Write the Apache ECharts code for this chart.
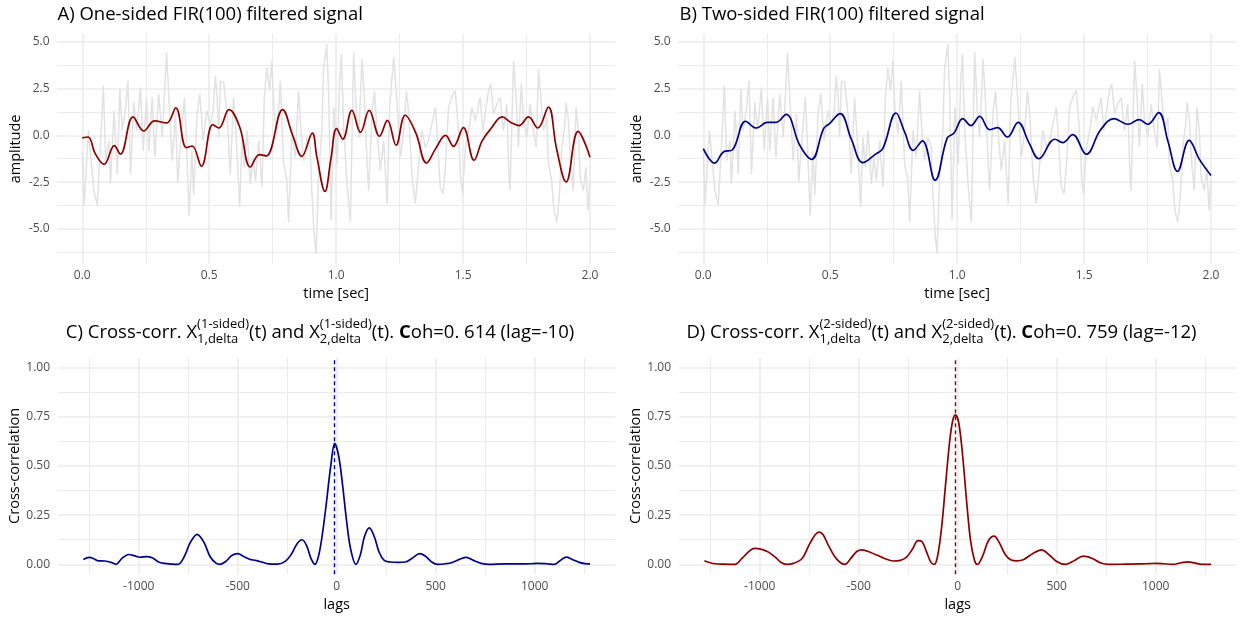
<!DOCTYPE html>
<html>
<head>
<meta charset="utf-8">
<script src="https://cdn.jsdelivr.net/npm/echarts@6/dist/echarts.min.js"></script>
<style>
  html, body { margin: 0; padding: 0; background: #ffffff; }
  #chart { width: 1240px; height: 617px; }
</style>
</head>
<body>
<div id="chart"></div>
<script>
// Raw (unfiltered) signal: [time in sec, amplitude]
const rawSignal = [
  [0,-0.91],[0.007,-3.75],[0.024,0.25],[0.046,-2.95],[0.059,-3.75],[0.069,-1.17],[0.083,2.65],[0.092,-1.35],[0.105,-0.28],[0.111,-2.59],
  [0.125,1.31],[0.138,-2.06],[0.148,2.47],[0.157,0.25],[0.170,1.40],[0.180,2.91],[0.190,-2.06],[0.203,1.76],[0.214,0.25],[0.229,2.56],
  [0.240,-0.82],[0.253,2.02],[0.262,-0.82],[0.275,2.02],[0.286,-1.17],[0.301,2.20],[0.315,-0.11],[0.332,4.42],[0.341,2.02],[0.354,-1.35],
  [0.367,1.14],[0.376,-2.50],[0.387,-0.46],[0.402,2.02],[0.410,-0.28],[0.421,-4.28],[0.432,-0.82],[0.439,-3.21],[0.452,1.14],[0.463,2.20],
  [0.476,-0.28],[0.491,1.31],[0.505,0.60],[0.515,1.31],[0.524,3.18],[0.531,2.02],[0.537,-0.11],[0.544,2.91],[0.557,2.82],[0.570,1.14],
  [0.583,-2.06],[0.596,2.02],[0.607,-0.28],[0.620,-3.84],[0.629,-0.11],[0.638,-1.71],[0.649,0.25],[0.662,-2.59],[0.672,-1.17],[0.682,-2.42],
  [0.695,-0.28],[0.708,-2.77],[0.717,2.02],[0.727,3.62],[0.738,2.38],[0.747,3.98],[0.756,1.14],[0.767,0.07],[0.780,2.91],[0.793,-1.53],
  [0.806,-2.42],[0.813,-4.64],[0.826,0.25],[0.839,-1.17],[0.852,2.38],[0.861,0.25],[0.872,-1.35],[0.885,-0.11],[0.898,-0.64],[0.904,-2.95],
  [0.913,-5.26],[0.921,-6.32],[0.931,-2.06],[0.944,0.25],[0.950,3.45],[0.963,4.87],[0.971,2.02],[0.980,-4.55],[0.991,1.49],[1.004,-1.53],
  [1.014,2.91],[1.021,4.33],[1.030,0.25],[1.043,-2.59],[1.056,-4.64],[1.063,0.25],[1.069,4.44],[1.080,1.14],[1.089,-0.11],[1.102,4.07],
  [1.111,2.02],[1.122,-1.53],[1.128,-2.95],[1.142,1.31],[1.151,2.38],[1.161,0.25],[1.174,-1.88],[1.187,-0.28],[1.201,-3.66],[1.211,1.67],
  [1.227,4.16],[1.240,1.67],[1.253,-1.17],[1.266,0.25],[1.277,2.38],[1.286,1.14],[1.299,-2.24],[1.312,-3.66],[1.325,-1.53],[1.338,0.25],
  [1.351,-0.64],[1.364,-0.28],[1.377,0.60],[1.391,1.49],[1.397,0.25],[1.410,-2.77],[1.421,-3.13],[1.430,-1.71],[1.443,1.49],[1.460,2.20],
  [1.469,2.38],[1.482,0.25],[1.491,-2.42],[1.498,-3.13],[1.509,-0.64],[1.522,0.25],[1.535,1.49],[1.548,0.78],[1.567,2.02],[1.578,0.25],
  [1.587,1.14],[1.600,2.38],[1.609,2.74],[1.620,1.14],[1.633,1.67],[1.646,2.02],[1.659,0.25],[1.672,1.67],[1.680,-1.88],[1.685,-2.95],
  [1.699,3.98],[1.709,2.02],[1.718,-0.64],[1.729,2.74],[1.738,0.78],[1.751,-0.11],[1.764,1.67],[1.777,0.25],[1.788,-0.64],[1.797,3.53],
  [1.806,2.02],[1.817,0.25],[1.830,0.96],[1.836,-1.53],[1.849,-2.42],[1.858,-4.01],[1.869,-4.64],[1.879,-3.30],[1.889,-0.64],[1.899,0.43],
  [1.906,1.76],[1.915,0.78],[1.924,-1.53],[1.934,-2.95],[1.945,1.49],[1.954,0.25],[1.961,-2.24],[1.974,-2.95],[1.984,-1.71],[1.992,-4.01],
  [2.0,-2.42]
];

// One-sided FIR(100) output: [time, amplitude]
const firOneSided = [
  [0,-0.14],[0.023,-0.09],[0.051,-0.98],[0.086,-1.55],[0.126,-0.55],[0.150,-1.01],[0.200,0.98],[0.242,0.23],[0.285,0.77],[0.332,0.66],
  [0.368,1.46],[0.410,-0.66],[0.433,-0.57],[0.469,-1.65],[0.514,0.57],[0.538,0.39],[0.578,1.37],[0.620,0.44],[0.662,-1.69],[0.698,-1.03],
  [0.725,-1.10],[0.789,1.37],[0.830,-0.05],[0.865,-1.12],[0.906,0.12],[0.924,-1.15],[0.956,-2.99],[0.979,-1.30],[1.002,0.36],[1.026,-0.20],
  [1.062,1.33],[1.096,0.16],[1.130,1.33],[1.171,-0.05],[1.202,0.80],[1.236,-0.53],[1.272,1.07],[1.314,0.12],[1.356,-1.48],[1.392,-0.71],
  [1.431,0.00],[1.462,-0.59],[1.501,0.41],[1.543,-1.33],[1.575,-0.30],[1.610,0.36],[1.654,0.98],[1.688,0.69],[1.720,0.52],[1.758,0.98],
  [1.794,0.39],[1.836,1.51],[1.868,-0.70],[1.906,-2.49],[1.953,0.21],[2.0,-1.17]
];

// Two-sided FIR(100) output: [time, amplitude]
const firTwoSided = [
  [0,-0.71],[0.045,-1.48],[0.079,-0.89],[0.115,-0.77],[0.167,0.75],[0.209,0.39],[0.251,0.69],[0.287,0.69],[0.326,1.12],[0.380,-0.53],
  [0.427,-1.28],[0.474,0.36],[0.497,0.62],[0.539,1.16],[0.583,-0.20],[0.629,-1.46],[0.676,-1.03],[0.707,-0.71],[0.759,1.19],[0.793,0.18],
  [0.827,-0.80],[0.863,-0.30],[0.913,-2.40],[0.961,-0.14],[0.988,0.12],[1.022,0.89],[1.054,0.52],[1.089,1.01],[1.128,0.30],[1.159,0.41],
  [1.198,-0.09],[1.240,0.69],[1.283,-0.40],[1.322,-1.25],[1.385,-0.21],[1.416,-0.39],[1.455,0.04],[1.509,-1.01],[1.564,0.27],[1.618,0.89],
  [1.673,0.59],[1.717,0.84],[1.751,0.59],[1.794,1.21],[1.830,-0.30],[1.868,-1.92],[1.914,-0.27],[1.955,-1.30],[2.0,-2.14]
];

// Cross-correlation of the one-sided outputs: [lag, value]
const ccfOneSided = [
  [-1280,0.025],[-1250,0.035],[-1230,0.030],[-1206,0.018],[-1170,0.017],[-1140,0.010],[-1115,0.000],[-1085,0.030],[-1050,0.050],[-1020,0.043],
  [-994,0.036],[-960,0.039],[-930,0.032],[-900,0.012],[-873,0.005],[-830,0.001],[-802,0.000],[-770,0.040],[-740,0.110],[-705,0.152],
  [-670,0.110],[-640,0.040],[-610,0.006],[-591,0.000],[-560,0.015],[-530,0.045],[-500,0.054],[-470,0.040],[-440,0.026],[-410,0.020],
  [-379,0.012],[-345,0.002],[-300,0.001],[-260,0.015],[-230,0.050],[-200,0.105],[-175,0.125],[-150,0.090],[-130,0.030],[-110,0.000],
  [-90,0.050],[-70,0.170],[-50,0.330],[-30,0.500],[-10,0.614],[10,0.550],[30,0.400],[50,0.220],[70,0.080],[97,0.000],
  [120,0.050],[140,0.140],[165,0.185],[190,0.140],[215,0.060],[240,0.020],[270,0.012],[310,0.010],[347,0.012],[380,0.030],
  [420,0.054],[450,0.040],[480,0.012],[510,0.000],[550,0.003],[580,0.008],[620,0.025],[655,0.035],[690,0.020],[730,0.005],
  [770,0.000],[850,0.002],[920,0.002],[980,0.003],[1012,0.005],[1060,0.003],[1100,0.000],[1130,0.020],[1160,0.037],[1190,0.025],
  [1225,0.010],[1254,0.004],[1280,0.002]
];

// Cross-correlation of the two-sided outputs: [lag, value]
const ccfTwoSided = [
  [-1280,0.018],[-1250,0.008],[-1226,0.003],[-1180,0.001],[-1126,0.000],[-1090,0.030],[-1050,0.070],[-1026,0.081],[-990,0.076],[-956,0.062],
  [-920,0.035],[-890,0.008],[-866,0.000],[-830,0.005],[-786,0.030],[-750,0.100],[-720,0.150],[-700,0.164],[-680,0.150],[-650,0.090],
  [-610,0.025],[-570,0.000],[-540,0.030],[-510,0.065],[-482,0.073],[-440,0.060],[-406,0.046],[-370,0.030],[-326,0.017],[-290,0.020],
  [-260,0.035],[-230,0.075],[-200,0.120],[-180,0.115],[-160,0.070],[-135,0.010],[-118,0.000],[-100,0.050],[-80,0.200],[-60,0.420],
  [-40,0.630],[-25,0.730],[-12,0.759],[5,0.720],[25,0.550],[45,0.320],[65,0.120],[85,0.020],[100,0.000],[125,0.040],
  [155,0.120],[184,0.143],[210,0.110],[240,0.050],[270,0.022],[300,0.018],[334,0.025],[380,0.055],[424,0.073],[460,0.050],
  [500,0.015],[544,0.000],[590,0.020],[634,0.042],[680,0.030],[720,0.008],[764,0.000],[850,0.001],[920,0.002],[970,0.004],
  [1004,0.005],[1040,0.003],[1084,0.000],[1130,0.008],[1164,0.013],[1200,0.006],[1234,0.000],[1280,0.000]
];

// Peak coherence and its lag for each cross-correlation
const peakOneSided = { lag: -10, coh: 0.614 };
const peakTwoSided = { lag: -12, coh: 0.759 };

// Axis breaks
const timeBreaks = [0, 0.5, 1, 1.5, 2];
const timeMinor = [0.25, 0.75, 1.25, 1.75];
const ampBreaks = [-5, -2.5, 0, 2.5, 5];
const ampMinor = [-6.25, -3.75, -1.25, 1.25, 3.75];
const lagBreaks = [-1000, -500, 0, 500, 1000];
const lagMinor = [-1250, -750, -250, 250, 750, 1250];
const ccBreaks = [0, 0.25, 0.5, 0.75, 1];
const ccMinor = [0.125, 0.375, 0.625, 0.875];

const FONT = "'Open Sans', 'Noto Sans', sans-serif";
const TICK_COL = '#4D4D4D';
const GRID_COL = '#EBEBEB';
const RED = '#8B0000';
const BLUE = '#00008B';

// ggplot-style 5% expansion of a data range
function expand(lo, hi) { const d = (hi - lo) * 0.05; return [lo - d, hi + d]; }
function extent(arr, k) {
  let lo = Infinity, hi = -Infinity;
  arr.forEach(p => { lo = Math.min(lo, p[k]); hi = Math.max(hi, p[k]); });
  return [lo, hi];
}

const timeRange = expand(0, 2);
const ampExt = extent(rawSignal, 1);
const ampRange = expand(ampExt[0], ampExt[1]);
const lagExt = extent(ccfOneSided, 0);
const lagRange = expand(lagExt[0], lagExt[1]);
const ccRange = expand(0, 1);

const grids = [
  { left: 56.9, top: 33.6, width: 558.5, height: 230.6 },
  { left: 677.9, top: 33.6, width: 558.5, height: 230.6 },
  { left: 58.0, top: 357.5, width: 557.4, height: 216.7 },
  { left: 679.0, top: 357.5, width: 557.4, height: 216.7 }
];

const TICK_SIZE = 12;
const AXIS_TITLE_SIZE = 14.5;

function xAxisDef(i, range, breaks, digits, name, labelMargin, nameGap) {
  return {
    gridIndex: i, type: 'value', min: range[0], max: range[1],
    axisLine: { show: false }, axisTick: { show: false }, splitLine: { show: false },
    axisLabel: {
      customValues: breaks, margin: labelMargin, color: TICK_COL,
      fontFamily: FONT, fontSize: TICK_SIZE,
      formatter: v => Number(v).toFixed(digits)
    },
    name: name, nameLocation: 'middle', nameGap: nameGap,
    nameTextStyle: { color: '#000', fontFamily: FONT, fontSize: AXIS_TITLE_SIZE }
  };
}
function yAxisDef(i, range, breaks, digits, name, labelMargin, nameGap) {
  return {
    gridIndex: i, type: 'value', min: range[0], max: range[1],
    axisLine: { show: false }, axisTick: { show: false }, splitLine: { show: false },
    axisLabel: {
      customValues: breaks, margin: labelMargin, color: TICK_COL,
      fontFamily: FONT, fontSize: TICK_SIZE,
      formatter: v => Number(v).toFixed(digits)
    },
    name: name, nameLocation: 'middle', nameGap: nameGap, nameRotate: 90,
    nameTextStyle: { color: '#000', fontFamily: FONT, fontSize: AXIS_TITLE_SIZE }
  };
}

// Panel grid lines (major and minor) drawn on the panel's own scales
function gridLines(i, xr, yr, xMaj, xMin, yMaj, yMin) {
  const data = [];
  xMin.forEach(v => data.push({ coords: [[v, yr[0]], [v, yr[1]]], lineStyle: { width: 1 } }));
  yMin.forEach(v => data.push({ coords: [[xr[0], v], [xr[1], v]], lineStyle: { width: 1 } }));
  xMaj.forEach(v => data.push({ coords: [[v, yr[0]], [v, yr[1]]], lineStyle: { width: 1.6 } }));
  yMaj.forEach(v => data.push({ coords: [[xr[0], v], [xr[1], v]], lineStyle: { width: 1.6 } }));
  return {
    type: 'lines', coordinateSystem: 'cartesian2d', xAxisIndex: i, yAxisIndex: i,
    silent: true, animation: false, z: 1,
    lineStyle: { color: GRID_COL, opacity: 1 },
    data: data
  };
}
function curve(i, data, color, width, smooth, z) {
  return {
    type: 'line', xAxisIndex: i, yAxisIndex: i, data: data,
    showSymbol: false, symbol: 'none', smooth: smooth, animation: false, silent: true, z: z,
    lineStyle: { color: color, width: width }
  };
}
function peakLine(i, lag, color) {
  return {
    type: 'lines', coordinateSystem: 'cartesian2d', xAxisIndex: i, yAxisIndex: i,
    silent: true, animation: false, z: 4,
    lineStyle: { color: color, width: 1.4, type: [4, 3], opacity: 1 },
    data: [{ coords: [[lag, ccRange[0]], [lag, ccRange[1]]] }]
  };
}

// Titles with stacked super/subscripts, laid out piece by piece
const measureCtx = document.createElement('canvas').getContext('2d');
function textWidth(text, size, weight) {
  measureCtx.font = (weight || 'normal') + ' ' + size + 'px ' + FONT;
  return measureCtx.measureText(text).width;
}
function textEl(x, y, text, size, weight, color) {
  return {
    type: 'text', x: x, y: y, silent: true,
    style: {
      text: text, fontSize: size, fontFamily: FONT, fontWeight: weight || 'normal',
      fill: color || '#000',
      align: 'left', verticalAlign: 'middle', textAlign: 'left', textVerticalAlign: 'middle'
    }
  };
}
const MAIN_SIZE = 18.5;
const SCRIPT_SIZE = 13;
function scriptTitle(centerX, midY, pieces) {
  const widths = pieces.map(p => p.sup !== undefined
    ? Math.max(textWidth(p.sup, SCRIPT_SIZE), textWidth(p.sub, SCRIPT_SIZE))
    : textWidth(p.text, MAIN_SIZE, p.bold ? 'bold' : 'normal'));
  const total = widths.reduce((a, b) => a + b, 0);
  let x = centerX - total / 2;
  const els = [];
  pieces.forEach((p, k) => {
    if (p.sup !== undefined) {
      els.push(textEl(x, midY - 8.6, p.sup, SCRIPT_SIZE));
      els.push(textEl(x, midY + 6.6, p.sub, SCRIPT_SIZE));
    } else {
      els.push(textEl(x, midY, p.text, MAIN_SIZE, p.bold ? 'bold' : 'normal'));
    }
    x += widths[k];
  });
  return els;
}
function cohTitle(letter, sided, peak) {
  const cohText = peak.coh.toFixed(3).replace('.', '. ');
  return [
    { text: letter + ') Cross-corr. X' },
    { sup: '(' + sided + ')', sub: '1,delta' },
    { text: '(t) and X' },
    { sup: '(' + sided + ')', sub: '2,delta' },
    { text: '(t). ' },
    { text: 'C', bold: true },
    { text: 'oh=' + cohText + ' (lag=' + peak.lag + ')' }
  ];
}

const chart = echarts.init(document.getElementById('chart'), null, { renderer: 'canvas' });

const option = {
  backgroundColor: '#ffffff',
  animation: false,
  grid: grids,
  xAxis: [
    xAxisDef(0, timeRange, timeBreaks, 1, 'time [sec]', 5.3, 22),
    xAxisDef(1, timeRange, timeBreaks, 1, 'time [sec]', 5.3, 22),
    xAxisDef(2, lagRange, lagBreaks, 0, 'lags', 6, 23),
    xAxisDef(3, lagRange, lagBreaks, 0, 'lags', 6, 23)
  ],
  yAxis: [
    yAxisDef(0, ampRange, ampBreaks, 1, 'amplitude', 7.4, 34),
    yAxisDef(1, ampRange, ampBreaks, 1, 'amplitude', 7.4, 34),
    yAxisDef(2, ccRange, ccBreaks, 2, 'Cross-correlation', 8, 36),
    yAxisDef(3, ccRange, ccBreaks, 2, 'Cross-correlation', 8, 36)
  ],
  series: [
    gridLines(0, timeRange, ampRange, timeBreaks, timeMinor, ampBreaks, ampMinor),
    gridLines(1, timeRange, ampRange, timeBreaks, timeMinor, ampBreaks, ampMinor),
    gridLines(2, lagRange, ccRange, lagBreaks, lagMinor, ccBreaks, ccMinor),
    gridLines(3, lagRange, ccRange, lagBreaks, lagMinor, ccBreaks, ccMinor),
    curve(0, rawSignal, '#E2E2E2', 1.5, false, 2),
    curve(1, rawSignal, '#E2E2E2', 1.5, false, 2),
    curve(0, firOneSided, RED, 1.7, 0.4, 3),
    curve(1, firTwoSided, BLUE, 1.7, 0.4, 3),
    curve(2, ccfOneSided, BLUE, 1.7, 0.35, 3),
    curve(3, ccfTwoSided, RED, 1.7, 0.35, 3),
    peakLine(2, peakOneSided.lag, BLUE),
    peakLine(3, peakTwoSided.lag, RED)
  ],
  graphic: {
    elements: [
      textEl(57.5, 15, 'A) One-sided FIR(100) filtered signal', MAIN_SIZE),
      textEl(679.5, 15, 'B) Two-sided FIR(100) filtered signal', MAIN_SIZE)
    ]
    .concat(scriptTitle(320, 332.5, cohTitle('C', '1-sided', peakOneSided)))
    .concat(scriptTitle(941.5, 332.5, cohTitle('D', '2-sided', peakTwoSided)))
  }
};

chart.setOption(option);
</script>
</body>
</html>
